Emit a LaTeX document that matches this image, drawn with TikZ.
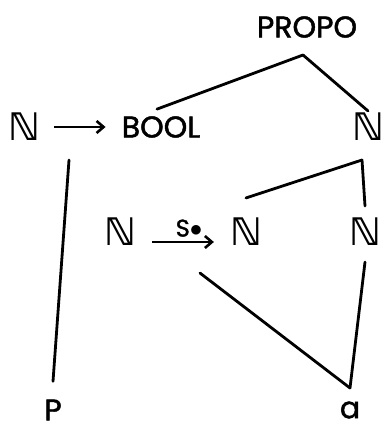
\documentclass[tikz,border=0pt]{standalone}
\usepackage{fontspec}
\setmainfont{Poppins}[FakeBold=1.5]
\newfontfamily\natfont{DejaVu Sans}
\usetikzlibrary{arrows.meta, positioning}

\begin{document}
\begin{tikzpicture}[
  x=1pt, y=-1pt,
  word/.style={font=\fontsize{30}{34}\selectfont, inner sep=2pt},
  nat/.style={font=\fontsize{38}{42}\selectfont\natfont\bfseries, inner sep=2pt},
  edge/.style={line width=2.8pt, line cap=round},
  arr/.style={-{Straight Barb[length=7pt, width=12pt]}, line width=2.6pt},
  lbl/.style={font=\fontsize{24}{26}\selectfont, inner sep=1pt}
]
  \useasboundingbox (0,0) rectangle (390,433);

  % Top
  \node[word] (propo) at (307,27) {PROPO};
  \coordinate (apex) at (303,55);

  % Row 1
  \node[nat] (nleft) at (24,127) {ℕ};
  \node[word] (bool) at (161,127) {BOOL};
  \node[nat] (ntop) at (368,127) {ℕ};
  \coordinate (fork) at (362,160);
  \coordinate (maptail) at (69,160);

  % Row 2
  \node[nat] (nsrc) at (120,232) {ℕ};
  \node[nat] (ntgt) at (246,232) {ℕ};
  \node[nat] (nbot) at (365,232) {ℕ};

  % Bottom
  \node[word] (p) at (53,410) {P};
  \node[word] (a) at (350,410) {a};
  \coordinate (join) at (350,388);

  % Arrows
  \draw[arr, shorten <=12pt, shorten >=14pt] (nleft) -- (bool);
  \draw[arr, shorten <=14pt, shorten >=14pt] ([yshift=-10pt]nsrc.east) -- ([yshift=-10pt]ntgt.west)
    node[lbl, midway, above=3pt, xshift=6pt] {S$\bullet$};

  % Lines
  \draw[edge] (apex) -- ([xshift=-4pt, yshift=5pt]bool.north);
  \draw[edge] (apex) -- (ntop.north);
  \draw[edge] (fork) -- ([yshift=10pt]nbot.north);
  \draw[edge] (fork) -- ([yshift=18pt]ntgt.north);
  \draw[edge] ([yshift=-14pt]nbot.south) -- (join);
  \draw[edge] ([xshift=-46pt, yshift=-25pt]ntgt.south) -- (join);
  \draw[edge] (maptail) -- ([yshift=16pt]p.north);
\end{tikzpicture}
\end{document}
